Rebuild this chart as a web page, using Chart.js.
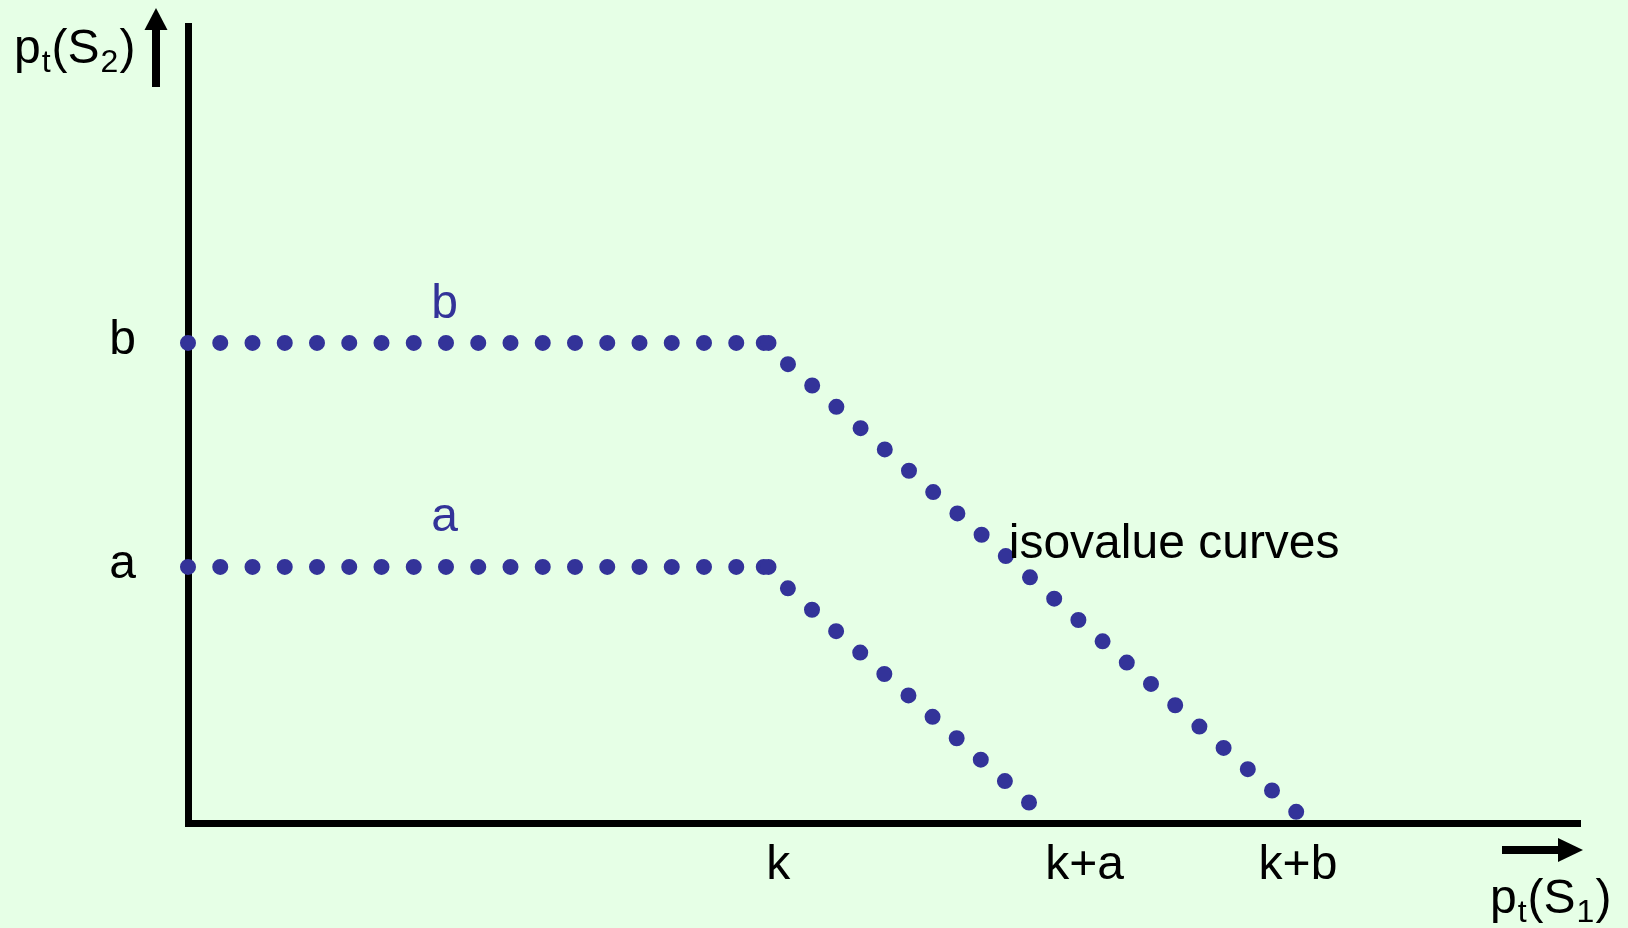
<!DOCTYPE html>
<html><head><meta charset="utf-8">
<style>html,body{margin:0;padding:0;background:#E6FFE6;overflow:hidden}canvas{display:block}</style>
<script src="https://cdn.jsdelivr.net/npm/chart.js@4.4.1/dist/chart.umd.min.js"></script>
</head><body>
<canvas id="c" width="1628" height="928"></canvas>
<script>
// ---------- data (chart units) ----------
const curveNames   = ['a', 'b'];
const levels       = [32, 60];              // p_t(S2) value of each flat part
const flatAx  = [0, 64.3],   flatAy  = [32, 32];
const slopeAx = [63.7, 93.5], slopeAy = [32, 2.1];
const flatBx  = [0, 64.3],   flatBy  = [60, 60];
const slopeBx = [63.7, 123.0], slopeBy = [60, 1.0];
const xTickValues = [65.3, 99.2, 122.8];
const xTickLabels = ['k', 'k+a', 'k+b'];
const yTickValues = [32, 60];
const yTickLabels = ['a', 'b'];
const X_MAX = 154, Y_MAX = 99.6;

// ---------- styling ----------
const BG = '#E6FFE6';
const DOT = '#333399';
const FONT = '"Liberation Sans", Arial, sans-serif';
const MAIN = 48, SUB = 32;
const CURVE_LABEL_RISE = [36, 25];   // px above each flat part
Chart.defaults.font.family = FONT;

const toPts = (xs, ys) => xs.map((v, i) => ({x: v, y: ys[i]}));
const dotted = (xs, ys) => ({
  data: toPts(xs, ys), showLine: true, pointRadius: 0, pointHoverRadius: 0,
  borderColor: DOT, borderWidth: 16, borderCapStyle: 'round',
  borderDash: [0, 32.25], tension: 0, clip: false, fill: false
});

function subText(ctx, x, y, parts) {
  let cx = x;
  for (const [t, sub] of parts) {
    ctx.font = (sub ? SUB : MAIN) + 'px ' + FONT;
    ctx.fillText(t, cx, sub ? y + 9 : y);
    cx += ctx.measureText(t).width + (sub ? 1 : 1);
  }
}

const deco = {
  id: 'deco',
  beforeDraw(chart) {
    const {ctx, width, height} = chart;
    ctx.save(); ctx.fillStyle = BG; ctx.fillRect(0, 0, width, height); ctx.restore();
  },
  afterDraw(chart) {
    const {ctx, chartArea: ca, scales: {x, y}} = chart;
    ctx.save();
    ctx.fillStyle = '#000';
    // up arrow
    const ax = ca.left - 32, tip = ca.top - 18, hb = tip + 22, tail = tip + 79;
    ctx.fillRect(ax - 4, hb - 1, 8, tail - hb + 1);
    ctx.beginPath(); ctx.moveTo(ax, tip); ctx.lineTo(ax - 11.5, hb); ctx.lineTo(ax + 11.5, hb); ctx.closePath(); ctx.fill();
    // right arrow
    const ay = ca.bottom + 27, rt = ca.right + 3, rb = rt - 25, rtail = rt - 81;
    ctx.fillRect(rtail, ay - 4, rb - rtail + 1, 8);
    ctx.beginPath(); ctx.moveTo(rt, ay); ctx.lineTo(rb, ay - 12); ctx.lineTo(rb, ay + 12); ctx.closePath(); ctx.fill();
    // axis titles
    ctx.textAlign = 'left'; ctx.textBaseline = 'alphabetic';
    subText(ctx, 14, 63, [['p', 0], ['t', 1], ['(S', 0], ['2', 1], [')', 0]]);
    subText(ctx, 1490, 913, [['p', 0], ['t', 1], ['(S', 0], ['1', 1], [')', 0]]);
    // curve labels
    ctx.font = MAIN + 'px ' + FONT;
    ctx.fillStyle = DOT; ctx.textAlign = 'center';
    levels.forEach((lv, i) => ctx.fillText(curveNames[i], x.getPixelForValue(28.4), y.getPixelForValue(lv) - CURVE_LABEL_RISE[i]));
    ctx.fillStyle = '#000'; ctx.textAlign = 'left';
    ctx.fillText('isovalue curves', x.getPixelForValue(90.8), y.getPixelForValue(33.1));
    ctx.restore();
  }
};

new Chart(document.getElementById('c'), {
  type: 'scatter',
  data: { datasets: [dotted(flatAx, flatAy), dotted(slopeAx, slopeAy), dotted(flatBx, flatBy), dotted(slopeBx, slopeBy)] },
  options: {
    responsive: false, animation: false, devicePixelRatio: 1,
    layout: { padding: { top: 26, right: 48, bottom: 0, left: 0 } },
    plugins: { legend: { display: false }, tooltip: { enabled: false } },
    events: [],
    scales: {
      x: {
        type: 'linear', min: 0, max: X_MAX,
        grid: { display: false, drawTicks: false },
        border: { display: true, color: '#000', width: 7 },
        afterBuildTicks: s => { s.ticks = xTickValues.map(v => ({value: v})); },
        ticks: { callback: (v, i) => xTickLabels[i], font: { size: MAIN }, color: '#000', padding: 14, maxRotation: 0, autoSkip: false },
        afterFit: s => { s.height = 105; s.paddingLeft = 0; s.paddingRight = 0; s.paddingTop = 0; s.paddingBottom = 0; }
      },
      y: {
        type: 'linear', min: 0, max: Y_MAX,
        grid: { display: false, drawTicks: false },
        border: { display: true, color: '#000', width: 7 },
        afterBuildTicks: s => { s.ticks = yTickValues.map(v => ({value: v})); },
        ticks: { callback: (v, i) => yTickLabels[i], font: { size: MAIN }, color: '#000', padding: 52, labelOffset: -2, autoSkip: false },
        afterFit: s => { s.width = 188; s.paddingTop = 0; s.paddingBottom = 0; s.paddingLeft = 0; s.paddingRight = 0; }
      }
    }
  },
  plugins: [deco]
});
</script>
</body></html>
